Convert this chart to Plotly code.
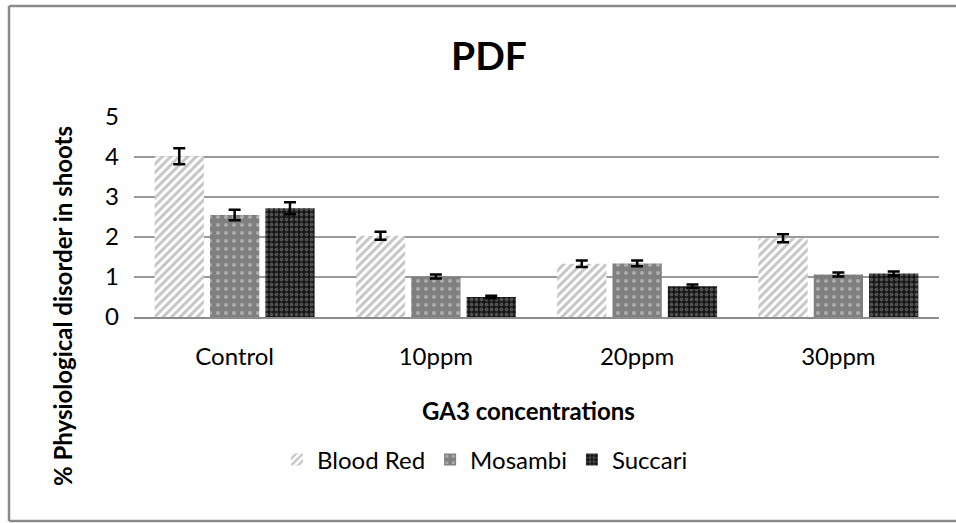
import plotly.graph_objects as go

categories = ["Control", "10ppm", "20ppm", "30ppm"]
series_names = ["Blood Red", "Mosambi", "Succari"]
blood_red = [4.02, 2.03, 1.33, 1.97]
blood_red_err = [0.20, 0.10, 0.08, 0.10]
mosambi = [2.55, 1.01, 1.34, 1.06]
mosambi_err = [0.13, 0.05, 0.07, 0.05]
succari = [2.72, 0.50, 0.77, 1.09]
succari_err = [0.15, 0.03, 0.04, 0.05]
y_ticks = [0, 1, 2, 3, 4, 5]

W, H = 956, 523
L, R, T, B = 134, 17, 117, 206
PW, PH = W - L - R, H - T - B

def px(x):
    return (x - L) / PW

def py(y):
    return (H - B - y) / PH

FONT = "Lato"

patterns = [
    dict(shape="/", fgcolor="#8c8c8c", bgcolor="#ffffff", size=6, solidity=0.5),
    dict(shape=".", fgcolor="#dcdcdc", bgcolor="#7f7f7f", size=8, solidity=0.2),
    dict(shape=".", fgcolor="#8a8a8a", bgcolor="#151515", size=5, solidity=0.45),
]

fig = go.Figure()
for name, vals, errs, pat in zip(series_names, [blood_red, mosambi, succari],
                                 [blood_red_err, mosambi_err, succari_err], patterns):
    fig.add_trace(go.Bar(
        name=name, x=categories, y=vals,
        marker=dict(color=pat["bgcolor"], pattern=pat, line=dict(width=0)),
        error_y=dict(type="data", array=errs, color="black", thickness=2.5, width=6),
    ))

border = dict(color="#8a8a8a", width=2.5)
fig.update_layout(
    width=W, height=H,
    margin=dict(l=L, r=R, t=T, b=B),
    paper_bgcolor="white", plot_bgcolor="white",
    barmode="group", bargap=0.175, bargroupgap=0.11,
    font=dict(family=FONT, color="black", size=24),
    showlegend=True,
    legend=dict(orientation="h", x=px(485), xanchor="center", y=py(460), yanchor="middle",
                font=dict(size=24), itemwidth=30, traceorder="normal"),
    xaxis=dict(showgrid=False, showline=True, linecolor="#8c8c8c", linewidth=2,
               ticks="", tickfont=dict(size=24), ticklabelstandoff=17),
    yaxis=dict(range=[0, 5], tickvals=y_ticks, showgrid=True, gridcolor="#9a9a9a",
               gridwidth=1.5, zeroline=False, showline=False, ticks="",
               tickfont=dict(size=24), ticklabelstandoff=14),
    annotations=[
        dict(text="<b>PDF</b>", x=px(489), y=py(55), xref="paper", yref="paper",
             xanchor="center", yanchor="middle",
             showarrow=False, font=dict(size=39, family=FONT)),
        dict(text="<b>GA3 concentrations</b>", x=px(528), y=py(410), xref="paper", yref="paper",
             xanchor="center", yanchor="middle",
             showarrow=False, font=dict(size=24, family=FONT)),
        dict(text="<b>% Physiological disorder in shoots</b>", x=px(62), y=py(306),
             xref="paper", yref="paper", showarrow=False, textangle=-90,
             xanchor="center", yanchor="middle",
             font=dict(size=24, family=FONT)),
    ],
    shapes=[
        dict(type="line", xref="paper", yref="paper", x0=px(9), x1=px(1000), y0=py(6), y1=py(6),
             line=border, layer="below"),
        dict(type="line", xref="paper", yref="paper", x0=px(9), x1=px(1000), y0=py(521), y1=py(521),
             line=border, layer="below"),
        dict(type="line", xref="paper", yref="paper", x0=px(9), x1=px(9), y0=py(6), y1=py(521),
             line=border, layer="below"),
    ],
)

fig.write_html("out.html", config={"displayModeBar": False},
               post_script="document.body.style.margin='0';document.body.style.overflow='hidden';")
